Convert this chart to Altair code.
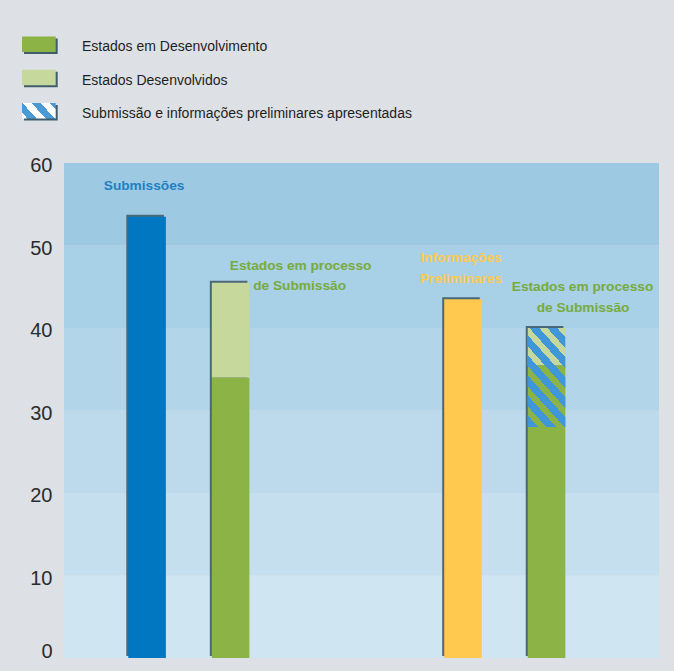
import altair as alt
import numpy as np
import pandas as pd

# ---- dados: número de Estados por barra e segmento ----
grupos = ["Submissões", "Submissões", "Submissões",
          "Informações Preliminares", "Informações Preliminares", "Informações Preliminares"]
barras = ["Total", "Estados", "Estados", "Total", "Estados", "Estados"]
series = ["Submissões", "Estados em Desenvolvimento", "Estados Desenvolvidos",
          "Informações Preliminares", "Estados em Desenvolvimento", "Estados Desenvolvidos"]
valores = [53.5, 34, 11.5, 43.5, 35.5, 4.5]

# Estados com submissão e informações preliminares apresentadas (trecho tracejado)
sobreposicao_grupo = "Informações Preliminares"
sobreposicao_barra = "Estados"
sobreposicao_valor = 12

legenda_rotulos = ["Estados em Desenvolvimento", "Estados Desenvolvidos",
                   "Submissão e informações preliminares apresentadas"]

eixo_y_valores = [0, 10, 20, 30, 40, 50, 60]

# ---- estilo ----
FUNDO = "#dde1e5"
SOMBRA = "#4b6878"
AZUL_LISTRA = "#3f96d8"
cores_series = {
    "Submissões": "#0277c1",
    "Informações Preliminares": "#ffc84f",
    "Estados em Desenvolvimento": "#8bb345",
    "Estados Desenvolvidos": "#c6d89c",
}
cores_faixas = ["#d0e5f2", "#c6dfef", "#bcdaec", "#b2d5e9", "#a8d0e6", "#9dcae2"]
FONTE = "Liberation Sans, Arial, sans-serif"

W, H = 595, 495
PX_POR_UNIDADE = H / 60.0
ALINHAMENTO = 0.407            # posição horizontal dos grupos de barras
DESLOC_SOMBRA = 2              # sombra deslocada 2 px para a esquerda e para cima


def listras(w, h, angulo, periodo, fracao, cor, fundo, fase=0.0):
    """Gradiente linear com paradas bruscas que desenha listras diagonais."""
    a = np.radians(angulo)
    d = np.array([np.cos(a) / w, np.sin(a) / h])
    d /= np.linalg.norm(d)
    g = np.array([d[1], -d[0]])
    cantos = np.array([[0.0, 0.0], [1.0, 0.0], [0.0, 1.0], [1.0, 1.0]])
    proj = cantos @ g
    p1 = cantos[int(np.argmin(proj))]
    p2 = p1 + (proj.max() - proj.min()) * g
    n = np.array([np.sin(a), -np.cos(a)])
    cp = (cantos * [w, h]) @ n
    k = (cp.max() - cp.min()) / periodo
    paradas = [alt.GradientStop(offset=0.0, color=fundo)]
    j = -1
    while True:
        s = (fase + j) / k
        e = (fase + j + fracao) / k
        if s >= 1:
            break
        j += 1
        if e <= 0:
            continue
        cs, ce = max(s, 0.0), min(e, 1.0)
        paradas += [alt.GradientStop(offset=float(cs), color=fundo),
                    alt.GradientStop(offset=float(cs), color=cor),
                    alt.GradientStop(offset=float(ce), color=cor),
                    alt.GradientStop(offset=float(ce), color=fundo)]
    paradas.append(alt.GradientStop(offset=1.0, color=fundo))
    return alt.LinearGradient(gradient="linear", stops=paradas,
                              x1=float(p1[0]), y1=float(p1[1]),
                              x2=float(p2[0]), y2=float(p2[1]))


# ---- tabelas ----
seg = pd.DataFrame({"grupo": grupos, "barra": barras, "serie": series, "valor": valores})
seg["topo"] = seg.groupby(["grupo", "barra"], sort=False)["valor"].cumsum()
seg["base"] = seg["topo"] - seg["valor"]

totais = seg.groupby(["grupo", "barra"], sort=False, as_index=False)["valor"].sum()
totais = totais.rename(columns={"valor": "topo"})
totais["base"] = 0.0

topo_sobre = float(totais.loc[(totais.grupo == sobreposicao_grupo) &
                              (totais.barra == sobreposicao_barra), "topo"].iloc[0])
sobre = pd.DataFrame({"grupo": [sobreposicao_grupo], "barra": [sobreposicao_barra],
                      "topo": [topo_sobre], "base": [topo_sobre - sobreposicao_valor]})

faixas = pd.DataFrame({"inicio": eixo_y_valores[:-1], "fim": eixo_y_valores[1:]})
faixas["faixa"] = faixas["inicio"].astype(str)

legenda = pd.DataFrame({"rotulo": legenda_rotulos})

# ---- escalas ----
escala_y = alt.Scale(domain=[0, 60], nice=False, zero=True)
PAD_INTERNO, PAD_EXTERNO = 0.6166, 0.25
sobra = W - W / (2 - PAD_INTERNO + 2 * PAD_EXTERNO) * (2 - PAD_INTERNO)


def eixo_x(alinhamento=ALINHAMENTO):
    return alt.X("grupo:N", axis=None,
                 scale=alt.Scale(type="band",
                                 domain=["Submissões", "Informações Preliminares"],
                                 paddingInner=PAD_INTERNO, paddingOuter=PAD_EXTERNO,
                                 align=alinhamento))


XO = alt.XOffset("barra:N", scale=alt.Scale(type="band", domain=["Total", "Estados"],
                                            paddingInner=0.55, paddingOuter=0))
cor = alt.Color("serie:N", legend=None,
                scale=alt.Scale(domain=list(cores_series.keys()),
                                range=list(cores_series.values())))

eixo = alt.Axis(values=eixo_y_valores, ticks=False, domain=False, grid=False, title=None,
                labelFontSize=20, labelFont=FONTE, labelColor="#2b2b2b", labelPadding=12,
                labelBaseline="middle", labelFlush=False,
                labelOffset={"condition": {"test": "datum.value == 0", "value": -6.5},
                             "value": 2.8})

fundo_faixas = alt.Chart(faixas).mark_rect().encode(
    x=alt.value(0), x2=alt.value("width"),
    y=alt.Y("inicio:Q", scale=escala_y, axis=eixo), y2="fim:Q",
    fill=alt.Fill("faixa:N", legend=None,
                  scale=alt.Scale(domain=faixas["faixa"].tolist(), range=cores_faixas)),
)

# a sombra usa a mesma escala x, apenas deslocada para a esquerda
sombras = alt.Chart(totais).mark_bar(color=SOMBRA, yOffset=-DESLOC_SOMBRA,
                                     y2Offset=-DESLOC_SOMBRA).encode(
    x=eixo_x(ALINHAMENTO - DESLOC_SOMBRA / sobra), xOffset=XO,
    y=alt.Y("topo:Q", scale=escala_y), y2="base:Q")

segmentos = alt.Chart(seg).mark_bar().encode(
    x=eixo_x(), xOffset=XO, y=alt.Y("topo:Q", scale=escala_y), y2="base:Q", color=cor)

larg_barra = 37.6
alt_sobre = sobreposicao_valor * PX_POR_UNIDADE
tracejado = alt.Chart(sobre).mark_bar(
    fill=listras(larg_barra, alt_sobre, 48, 13.4, 0.55, AZUL_LISTRA,
                 "rgba(255,255,255,0)", fase=0.03)).encode(
    x=eixo_x(), xOffset=XO, y=alt.Y("topo:Q", scale=escala_y), y2="base:Q")


def rotulo(texto, grupo, barra, cor_txt, dx, dy):
    d = totais[(totais.grupo == grupo) & (totais.barra == barra)]
    return alt.Chart(d).mark_text(
        text=texto, color=cor_txt, font=FONTE, fontSize=13.7, fontWeight="bold",
        align="center", baseline="middle", dx=dx, dy=dy).encode(
        x=eixo_x(), xOffset=XO, y=alt.Y("topo:Q", scale=escala_y))


VERDE_TXT = "#78ab3d"
rotulos = [
    rotulo("Submissões", "Submissões", "Total", "#1f7fc4", -3, -31),
    rotulo("Estados em processo", "Submissões", "Estados", VERDE_TXT, 70, -16.6),
    rotulo("de Submissão", "Submissões", "Estados", VERDE_TXT, 69, 3.1),
    rotulo("Informações", "Informações Preliminares", "Total", "#ffc94d", -2, -41),
    rotulo("Preliminares", "Informações Preliminares", "Total", "#ffc94d", -2, -20),
    rotulo("Estados em processo", "Informações Preliminares", "Estados", VERDE_TXT, 36, -41),
    rotulo("de Submissão", "Informações Preliminares", "Estados", VERDE_TXT, 36.5, -20),
]

principal = alt.layer(fundo_faixas, sombras, segmentos, tracejado, *rotulos).resolve_scale(
    x="independent", xOffset="independent")

# ---- legenda acima da área do gráfico ----
Y_LEG = alt.Y("rotulo:N", axis=None,
              scale=alt.Scale(domain=legenda_rotulos, range=[-135.3, -35.55],
                              paddingInner=0, paddingOuter=0))
ALT_AMOSTRA = 15.5
X_AMOSTRA, X2_AMOSTRA = -42, -8.3

leg_dados = legenda[legenda.rotulo != legenda_rotulos[2]].rename(columns={"rotulo": "serie"})
leg_dados["rotulo"] = leg_dados["serie"]

leg_sombra = alt.Chart(legenda).mark_bar(
    height=ALT_AMOSTRA, color="#3f5d6d", xOffset=2, x2Offset=2, yOffset=2).encode(
    x=alt.value(X_AMOSTRA), x2=alt.value(X2_AMOSTRA), y=Y_LEG)
leg_cores = alt.Chart(leg_dados).mark_bar(height=ALT_AMOSTRA).encode(
    x=alt.value(X_AMOSTRA), x2=alt.value(X2_AMOSTRA), y=Y_LEG, color=cor)
leg_listras = alt.Chart(legenda[legenda.rotulo == legenda_rotulos[2]]).mark_bar(
    height=ALT_AMOSTRA,
    fill=listras(X2_AMOSTRA - X_AMOSTRA, ALT_AMOSTRA, 48, 13.5, 0.5, "#4a9ad6", "#ffffff",
                 fase=0.3)).encode(
    x=alt.value(X_AMOSTRA), x2=alt.value(X2_AMOSTRA), y=Y_LEG)
leg_texto = alt.Chart(legenda).mark_text(
    align="left", baseline="middle", font=FONTE, fontSize=14, color="#1e1e1e",
    dy=3).encode(x=alt.value(18), y=Y_LEG, text="rotulo:N")

quadro_legenda = alt.layer(leg_sombra, leg_cores, leg_listras, leg_texto)

chart = alt.layer(principal, quadro_legenda).resolve_scale(y="independent").properties(
    width=W, height=H,
    padding={"left": 64, "top": 163, "right": 15, "bottom": 13},
    autosize=alt.AutoSizeParams(type="none"),
    background=FUNDO,
).configure_view(stroke=None)

chart.save("out.html", embed_options={"renderer": "svg", "actions": False})
